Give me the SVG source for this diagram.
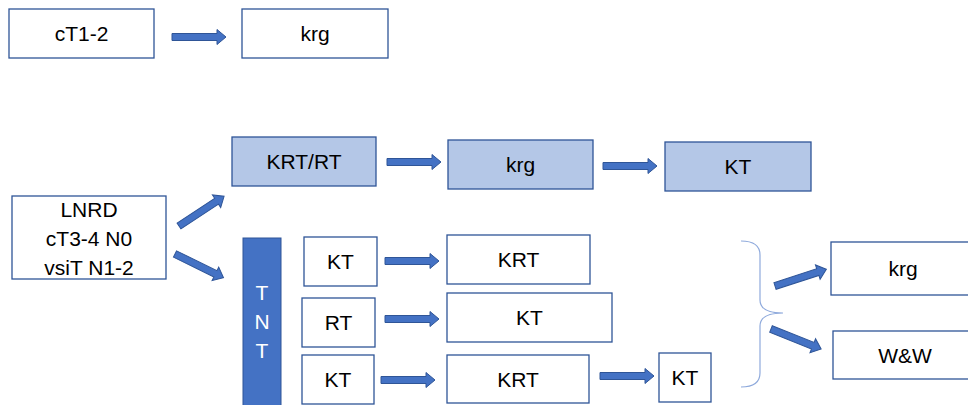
<svg xmlns="http://www.w3.org/2000/svg" width="968" height="405" viewBox="0 0 968 405">
  <style>
    .box { fill: #ffffff; stroke: #2f5597; stroke-width: 1.3; }
    .fill { fill: #b4c7e7; stroke: #2f5597; stroke-width: 1.3; }
    .bar { fill: #4472c4; stroke: #2f5597; stroke-width: 1; }
    .lbl { font-family: "Liberation Sans", Arial, sans-serif; font-size: 21px; fill: #000000; text-anchor: middle; }
    .wlbl { font-family: "Liberation Sans", Arial, sans-serif; font-size: 21px; fill: #ffffff; text-anchor: middle; }
    .arrow { fill: #4472c4; stroke: #2f5597; stroke-width: 1; }
    .brace { fill: none; stroke: #8faadc; stroke-width: 1.2; }
  </style>
  <defs>
    <!-- block arrow pointing along +x, 54px long -->
    <path id="blk" class="arrow" d="M0,-3.5 H45 V-7.5 L54,0 L45,7.5 V3.5 H0 Z"/>
  </defs>

  <rect width="968" height="405" fill="#ffffff"/>

  <g id="n-ct12"><rect class="box" x="9" y="9" width="145" height="49"/><text class="lbl" x="81.5" y="41">cT1-2</text></g>
  <g id="n-krg-top"><rect class="box" x="242" y="9" width="146" height="49"/><text class="lbl" x="315" y="41">krg</text></g>

  <g id="n-lnrd"><rect class="box" x="12" y="196" width="154" height="83"/>
    <text class="lbl" x="89" y="217">LNRD</text>
    <text class="lbl" x="89" y="246">cT3-4 N0</text>
    <text class="lbl" x="89" y="275">vsiT N1-2</text>
  </g>

  <g id="n-krtrt"><rect class="fill" x="232" y="137" width="144" height="49"/><text class="lbl" x="304" y="169">KRT/RT</text></g>
  <g id="n-krg-mid"><rect class="fill" x="448" y="140" width="145" height="49"/><text class="lbl" x="520.5" y="172">krg</text></g>
  <g id="n-kt-mid"><rect class="fill" x="665" y="142" width="146" height="49"/><text class="lbl" x="738" y="174">KT</text></g>

  <g id="n-tnt"><rect class="bar" x="243" y="238" width="38" height="170"/>
    <text class="wlbl" x="262" y="300">T</text>
    <text class="wlbl" x="262" y="329">N</text>
    <text class="wlbl" x="262" y="358">T</text>
  </g>

  <g id="n-kt1"><rect class="box" x="304" y="237" width="73" height="49"/><text class="lbl" x="340.5" y="269">KT</text></g>
  <g id="n-krt1"><rect class="box" x="447" y="235" width="143" height="49"/><text class="lbl" x="518.5" y="267">KRT</text></g>
  <g id="n-rt2"><rect class="box" x="302" y="298" width="73" height="49"/><text class="lbl" x="338.5" y="330">RT</text></g>
  <g id="n-kt2"><rect class="box" x="447" y="293" width="165" height="49"/><text class="lbl" x="529.5" y="325">KT</text></g>
  <g id="n-kt3"><rect class="box" x="302" y="355" width="72" height="49"/><text class="lbl" x="338" y="387">KT</text></g>
  <g id="n-krt3"><rect class="box" x="447" y="355" width="142" height="48"/><text class="lbl" x="518" y="386.5">KRT</text></g>
  <g id="n-kt4"><rect class="box" x="659" y="353" width="52" height="49"/><text class="lbl" x="685" y="385">KT</text></g>

  <g id="n-krg-right"><rect class="box" x="831" y="242" width="140" height="53"/><text class="lbl" x="903" y="276">krg</text></g>
  <g id="n-ww"><rect class="box" x="833" y="331" width="140" height="48"/><text class="lbl" x="905" y="362.5">W&amp;W</text></g>

  <g id="brace"><path class="brace" d="M741,241 Q760,241 760,255 V300 Q760,313 783,313 Q760,313 760,326 V373 Q760,387 741,387"/></g>

  <g id="connectors">
    <use href="#blk" transform="translate(172,37)"/>
    <use href="#blk" transform="translate(179,226) rotate(-33.4)"/>
    <use href="#blk" transform="translate(175,254) rotate(26.1)"/>
    <use href="#blk" transform="translate(387,162)"/>
    <use href="#blk" transform="translate(603,166)"/>
    <use href="#blk" transform="translate(385,261)"/>
    <use href="#blk" transform="translate(385,319)"/>
    <use href="#blk" transform="translate(381,380)"/>
    <use href="#blk" transform="translate(600,376)"/>
    <use href="#blk" transform="translate(775,286) rotate(-18)"/>
    <use href="#blk" transform="translate(771,329) rotate(21.8)"/>
  </g>
</svg>
